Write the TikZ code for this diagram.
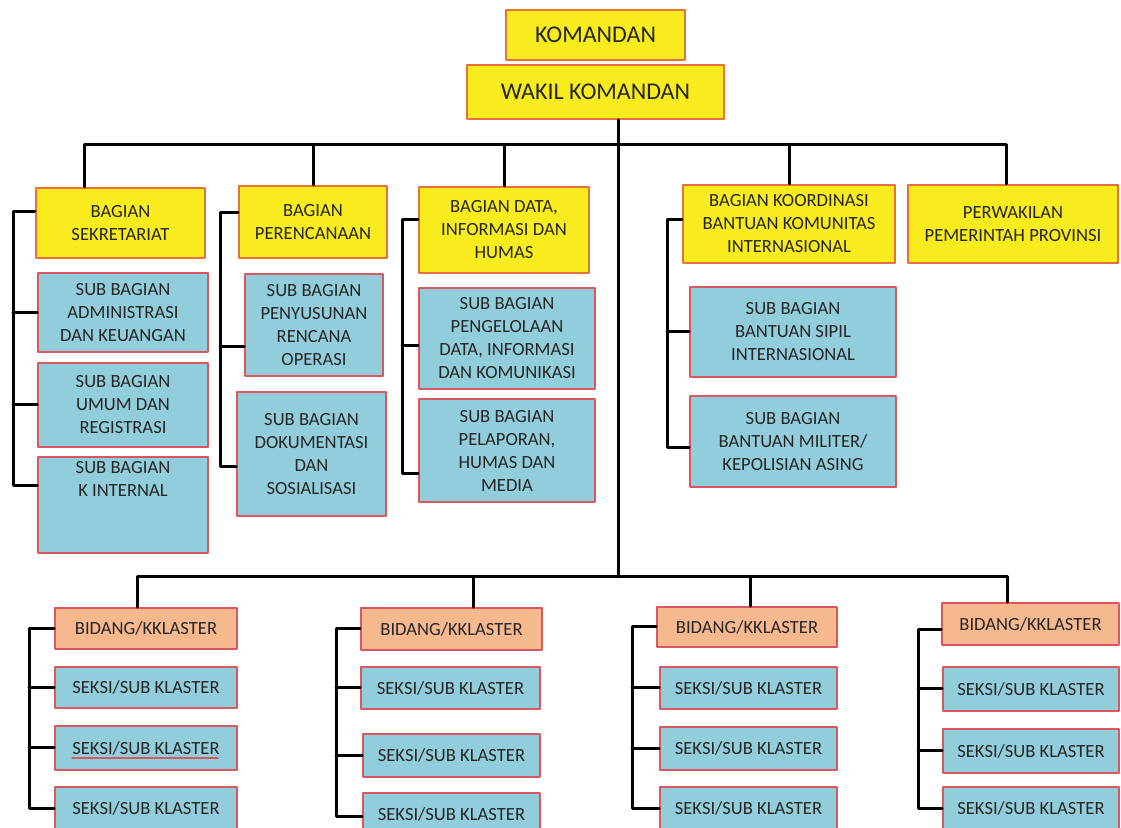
\documentclass[tikz,border=0pt]{standalone}
\usepackage{fontspec}
\setmainfont{Carlito}
\usepackage{tikz}
\usetikzlibrary{calc}
\definecolor{org-kuning}{HTML}{F8EB1E}
\definecolor{org-oranye}{HTML}{E8703A}
\definecolor{org-biru}{HTML}{92CDDC}
\definecolor{org-merah}{HTML}{D9575F}
\definecolor{org-jingga}{HTML}{F6B88E}
\definecolor{org-teks}{HTML}{262626}

\begin{document}
\begin{tikzpicture}[x=0.5pt, y=-0.5pt, line cap=round, line join=round,
    every node/.style={inner sep=0pt, align=center, text=org-teks, font=\fontsize{9.3}{11.5}\selectfont},
    kuning/.style={draw=org-oranye, line width=1pt, fill=org-kuning},
    biru/.style={draw=org-merah, line width=0.8pt, fill=org-biru},
    jingga/.style={draw=org-merah, line width=0.8pt, fill=org-jingga},
    wh/.style 2 args={minimum width=#1*0.5pt, minimum height=#2*0.5pt},
    besar/.style={font=\fontsize{12}{14}\selectfont},
    garis/.style={line width=1.5pt, color=black}]
    % frame
    \useasboundingbox (0,0) rectangle (1121,828);
    \clip (0,0) rectangle (1121,828);

    % pimpinan
    \node (kmd) at (595.5,35) [kuning, besar, wh={179}{50}] {KOMANDAN};
    \node (wakil) at (595.5,92) [kuning, besar, wh={257}{54}] {WAKIL KOMANDAN};

    % bagian
    \node (sekr) at (120.5,223) [kuning, wh={169}{70}] {BAGIAN\\SEKRETARIAT};
    \node (renc) at (313,222) [kuning, wh={148}{72}] {BAGIAN\\PERENCANAAN};
    \node (data) at (504,230) [kuning, wh={170}{86}] {BAGIAN DATA,\\INFORMASI DAN\\HUMAS};
    \node (koord) at (789,224) [kuning, wh={212}{78}] {BAGIAN KOORDINASI\\BANTUAN KOMUNITAS\\INTERNASIONAL};
    \node (perw) at (1013,224) [kuning, wh={210}{78}] {PERWAKILAN\\PEMERINTAH PROVINSI};

    % sub bagian
    \node (adm) at (123,312.5) [biru, wh={170}{79}] {SUB BAGIAN\\ADMINISTRASI\\DAN KEUANGAN};
    \node (umum) at (123,405) [biru, wh={170}{84}] {SUB BAGIAN\\UMUM DAN\\REGISTRASI};
    \node (kint) at (123,505) [biru, wh={170}{96}] {SUB BAGIAN\\K INTERNAL\\\strut\\\strut};
    \node (peny) at (314,325) [biru, wh={138}{102}] {SUB BAGIAN\\PENYUSUNAN\\RENCANA\\OPERASI};
    \node (dok) at (311.5,454) [biru, wh={149}{124}] {SUB BAGIAN\\DOKUMENTASI\\DAN\\SOSIALISASI};
    \node (peng) at (507,338.5) [biru, wh={176}{101}] {SUB BAGIAN\\PENGELOLAAN\\DATA, INFORMASI\\DAN KOMUNIKASI};
    \node (pela) at (507,450.5) [biru, wh={176}{103}] {SUB BAGIAN\\PELAPORAN,\\HUMAS DAN\\MEDIA};
    \node (sipil) at (793,332) [biru, wh={206}{90}] {SUB BAGIAN\\BANTUAN SIPIL\\INTERNASIONAL};
    \node (mil) at (793,441.5) [biru, wh={206}{91}] {SUB BAGIAN\\BANTUAN MILITER/\\KEPOLISIAN ASING};

    % bidang / klaster
    \node (bid1) at (146,628.5) [jingga, wh={182}{41}] {BIDANG/KKLASTER};
    \node (sk1a) at (146,687.5) [biru, wh={182}{41}] {SEKSI/SUB KLASTER};
    \node (sk1b) at (146,748) [biru, wh={182}{44}] {SEKSI/SUB KLASTER};
    \node (sk1c) at (146,808.5) [biru, wh={182}{43}] {SEKSI/SUB KLASTER};

    \node (bid2) at (451.5,629) [jingga, wh={181}{42}] {BIDANG/KKLASTER};
    \node (sk2a) at (450.5,688) [biru, wh={179}{42}] {SEKSI/SUB KLASTER};
    \node (sk2b) at (451.5,755.5) [biru, wh={177}{43}] {SEKSI/SUB KLASTER};
    \node (sk2c) at (451.5,814.5) [biru, wh={177}{43}] {SEKSI/SUB KLASTER};

    \node (bid3) at (747,627) [jingga, wh={180}{40}] {BIDANG/KKLASTER};
    \node (sk3a) at (748.5,688) [biru, wh={177}{42}] {SEKSI/SUB KLASTER};
    \node (sk3b) at (748.5,748.5) [biru, wh={177}{43}] {SEKSI/SUB KLASTER};
    \node (sk3c) at (748.5,808.5) [biru, wh={177}{43}] {SEKSI/SUB KLASTER};

    \node (bid4) at (1030.5,624) [jingga, wh={177}{42}] {BIDANG/KKLASTER};
    \node (sk4a) at (1031,689) [biru, wh={176}{44}] {SEKSI/SUB KLASTER};
    \node (sk4b) at (1031,751) [biru, wh={176}{44}] {SEKSI/SUB KLASTER};
    \node (sk4c) at (1031,808.5) [biru, wh={176}{43}] {SEKSI/SUB KLASTER};

    % spell check underline
    \draw[org-merah, line width=0.6pt] ($(sk1b.center)+(-74,10)$) -- ($(sk1b.center)+(72,10)$);

    % trunk and bars
    \coordinate (atas) at (618,145);
    \coordinate (bawah) at (618,577);
    \coordinate (kiri) at (84,145);
    \coordinate (kanan) at (1006,145);
    \coordinate (bkiri) at (137,577);
    \coordinate (bkanan) at (1007,577);
    \coordinate (b2) at (473,577);
    \coordinate (b3) at (750,577);
    \draw[garis] (wakil.south -| atas) -- (bawah);
    \draw[garis] (sekr.north -| kiri) -- (kiri) -- (kanan) -- (perw.north -| kanan);
    \draw[garis] (renc.north) -- (renc.north |- atas);
    \draw[garis] (data.north) -- (data.north |- atas);
    \draw[garis] (koord.north) -- (koord.north |- atas);
    \draw[garis] (bid1.north -| bkiri) -- (bkiri) -- (bkanan) -- (bid4.north -| bkanan);
    \draw[garis] (b2) -- (bid2.north -| b2);
    \draw[garis] (b3) -- (bid3.north -| b3);

    % spines
    \coordinate (t1) at (13,486);
    \coordinate (t2) at (220,467);
    \coordinate (t3) at (402,474);
    \coordinate (t4) at (667,448);
    \coordinate (t5) at (29,808.5);
    \coordinate (t6) at (336,817);
    \coordinate (t7) at (632,808.5);
    \coordinate (t8) at (918,808.5);

    \draw[garis] ($(sekr.west)+(0,-11)$) -| (t1) -- (t1 -| kint.west);
    \draw[garis] (adm.west) -- (adm.west -| t1);
    \draw[garis] (umum.west) -- (umum.west -| t1);

    \draw[garis] ($(renc.west)+(0,-9)$) -| (t2) -- (t2 -| dok.west);
    \draw[garis] ($(peny.west)+(0,22)$) -- ($(peny.west -| t2)+(0,22)$);

    \draw[garis] ($(data.west)+(0,-10)$) -| (t3) -- (t3 -| pela.west);
    \draw[garis] ($(peng.west)+(0,7.5)$) -- ($(peng.west -| t3)+(0,7.5)$);

    \draw[garis] ($(koord.west)+(0,-4)$) -| (t4) -- (t4 -| mil.west);
    \draw[garis] (sipil.west) -- (sipil.west -| t4);

    \draw[garis] (bid1.west) -| (t5) -- (t5 -| sk1c.west);
    \draw[garis] (sk1a.west) -- (sk1a.west -| t5);
    \draw[garis] (sk1b.west) -- (sk1b.west -| t5);

    \draw[garis] (bid2.west) -| (t6) -- (t6 -| sk2c.west);
    \draw[garis] (sk2a.west) -- (sk2a.west -| t6);
    \draw[garis] (sk2b.west) -- (sk2b.west -| t6);

    \draw[garis] (bid3.west) -| (t7) -- (t7 -| sk3c.west);
    \draw[garis] (sk3a.west) -- (sk3a.west -| t7);
    \draw[garis] (sk3b.west) -- (sk3b.west -| t7);

    \draw[garis] ($(bid4.west)+(0,6)$) -| (t8) -- (t8 -| sk4c.west);
    \draw[garis] (sk4a.west) -- (sk4a.west -| t8);
    \draw[garis] (sk4b.west) -- (sk4b.west -| t8);

\end{tikzpicture}
\end{document}
